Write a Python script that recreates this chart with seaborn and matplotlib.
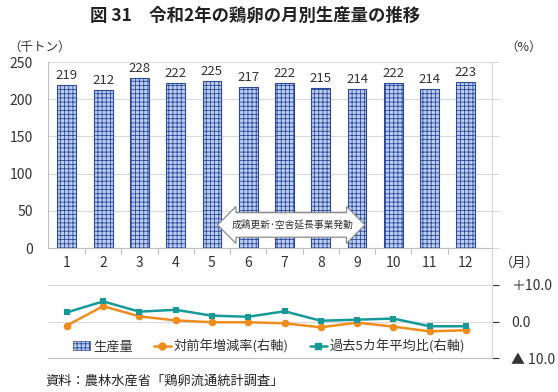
import matplotlib
matplotlib.use("Agg")
import matplotlib.pyplot as plt
import seaborn as sns
import pandas as pd
from matplotlib.patches import Patch
from matplotlib.lines import Line2D

# ------------ DATA ------------
months = ["1", "2", "3", "4", "5", "6", "7", "8", "9", "10", "11", "12"]
production = [219, 212, 228, 222, 225, 217, 222, 215, 214, 222, 214, 223]
yoy_change = [-1.1, 4.2, 1.4, 0.3, -0.2, -0.2, -0.5, -1.6, -0.3, -1.4, -2.7, -2.4]
vs_5yr_avg = [2.5, 5.5, 2.7, 3.2, 1.6, 1.3, 2.8, 0.2, 0.5, 0.8, -1.3, -1.3]
right_ticks = [10, 0, -10]
right_labels = ["＋10.0", "0.0", "▲ 10.0"]

BAR_FACE = "#bccdef"
BAR_EDGE = "#2b4a9a"
HATCH = "#3f5fb0"
ORANGE = "#ee8d1e"
TEAL = "#17999a"
GRID = "#d9d9d9"
SPINE = "#bfbfbf"
TXT = "#333333"

sns.set_theme(style="white")
plt.rcParams["font.family"] = ["Noto Sans CJK JP", "DejaVu Sans"]
plt.rcParams["hatch.linewidth"] = 0.6
plt.rcParams["hatch.color"] = HATCH

df = pd.DataFrame({"month": months, "production": production,
                   "yoy": yoy_change, "avg5": vs_5yr_avg})
df["pos"] = range(len(months))

fig = plt.figure(figsize=(5.58, 3.92), dpi=100)
ax = fig.add_axes([48 / 558, 1 - 248 / 392, 444 / 558, 186 / 392])
ax2 = fig.add_axes([48 / 558, 1 - 358 / 392, 444 / 558, 73 / 392])
XLIM = (-0.52, 11.72)

# ------------ BARS ------------
sns.barplot(data=df, x="month", y="production", color=BAR_FACE, width=0.52,
            ax=ax, saturation=1, zorder=3)
for p in ax.patches:
    p.set_hatch("++++")
    p.set_edgecolor(BAR_EDGE)
    p.set_linewidth(0.8)
for i, v in enumerate(production):
    ax.text(i, v + 4, str(v), ha="center", va="bottom", fontsize=9.5, color=TXT)

ax.set_xlim(*XLIM)
ax.set_ylim(0, 250)
ax.set_yticks(range(0, 251, 50))
ax.yaxis.grid(True, color=GRID, lw=0.8, zorder=0)
ax.set_xlabel("")
ax.set_ylabel("")
ax.tick_params(axis="y", labelsize=10, colors=TXT, length=0, pad=6)
ax.tick_params(axis="x", labelsize=10, colors=TXT, length=0, pad=6)
ax.set_xticks([i + 0.5 for i in range(11)], minor=True)
ax.tick_params(axis="x", which="minor", bottom=True, length=4, color=SPINE, width=0.8, direction="out")
ax.tick_params(axis="y", which="major", right=True, length=5, color=GRID, width=0.8, direction="out")
ax.spines["top"].set_visible(False)
for s in ["left", "bottom", "right"]:
    ax.spines[s].set_color(SPINE)
    ax.spines[s].set_linewidth(0.8)
ax.spines["right"].set_color(GRID)

# arrow annotation
ax.text(6.23, 31, "成鶏更新･空舎延長事業発動", ha="center", va="center", fontsize=7,
        color=TXT, zorder=5,
        bbox=dict(boxstyle="darrow,pad=0.75", fc="white", ec="#8c8c8c", lw=0.9))

# ------------ LINES ------------
sns.lineplot(data=df, x="pos", y="yoy", ax=ax2, color=ORANGE, marker="o",
             markersize=5.5, markeredgewidth=0, lw=1.8, zorder=4)
sns.lineplot(data=df, x="pos", y="avg5", ax=ax2, color=TEAL, marker="s",
             markersize=5, markeredgewidth=0, lw=1.8, zorder=5)
ax2.set_xlim(*XLIM)
ax2.set_ylim(-10, 10)
ax2.set_xticks([])
ax2.set_xlabel("")
ax2.set_ylabel("")
ax2.yaxis.tick_right()
ax2.set_yticks(right_ticks)
ax2.set_yticklabels(right_labels)
ax2.tick_params(axis="y", labelsize=10, colors=TXT, length=5, width=0.8, pad=9, direction="out")
for t in ax2.yaxis.get_ticklines():
    t.set_color(GRID)
for y in [10, 0]:
    ax2.axhline(y, color=GRID, lw=0.8, zorder=0)
for s in ["top", "left"]:
    ax2.spines[s].set_visible(False)
ax2.spines["bottom"].set_color(SPINE)
ax2.spines["bottom"].set_linewidth(0.8)
ax2.spines["right"].set_color(GRID)
ax2.spines["right"].set_linewidth(0.8)
ax2.patch.set_alpha(0)

handles = [
    Patch(facecolor=BAR_FACE, edgecolor=BAR_EDGE, hatch="++++", lw=0.5, label="生産量"),
    Line2D([], [], color=ORANGE, marker="o", markersize=5, lw=1.8, label="対前年増減率(右軸)"),
    Line2D([], [], color=TEAL, marker="s", markersize=5, lw=1.8, label="過去5カ年平均比(右軸)"),
]
ax2.legend(handles=handles, loc="lower left", bbox_to_anchor=(0.03, -0.1), ncol=3,
           frameon=False, fontsize=9.5, handlelength=1.3, handletextpad=0.2,
           columnspacing=1.6, labelcolor=TXT)

# connect right border between panels
fig.add_artist(Line2D([492 / 558, 492 / 558], [1 - 285 / 392, 1 - 248 / 392],
                      transform=fig.transFigure, color=GRID, lw=0.8))

# ------------ TEXT ------------
fig.text(255 / 558, 1 - 16 / 392, "図 31　令和2年の鶏卵の月別生産量の推移", ha="center",
         va="center", fontsize=12.5, fontweight="bold", color="#222222")
fig.text(8 / 558, 1 - 47 / 392, "（千トン）", ha="left", va="center", fontsize=9, color=TXT)
fig.text(505 / 558, 1 - 47 / 392, "（%）", ha="left", va="center", fontsize=9, color=TXT)
fig.text(500 / 558, 1 - 263 / 392, "（月）", ha="left", va="center", fontsize=9.5, color=TXT)
fig.text(45 / 558, 1 - 381 / 392, "資料：農林水産省「鶏卵流通統計調査」", ha="left",
         va="center", fontsize=9.5, color="#222222")

fig.savefig("out.png", dpi=100)
